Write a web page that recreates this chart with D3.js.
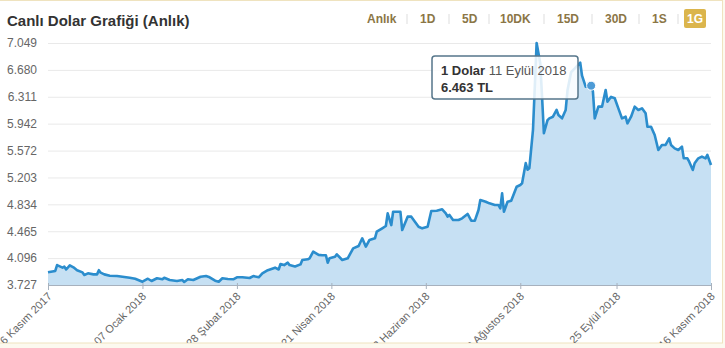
<!DOCTYPE html>
<html>
<head>
<meta charset="utf-8">
<script src="https://cdn.jsdelivr.net/npm/d3@7"></script>
<style>
body { margin: 0; background: #fff; }
svg { display: block; font-family: Arial, "Liberation Sans", sans-serif; }
</style>
</head>
<body>
<div id="chart"></div>
<script>
// chart data (days counted from 16 Kasım 2017)
var startDate = new Date(2017, 10, 16);
var endDate = new Date(2018, 10, 16);

var dayOffsets = [0, 4, 5, 8, 9, 10, 12, 14, 16, 19, 20, 22, 25, 27, 28, 29, 31, 34, 38, 41,
  45, 48, 51, 52, 55, 57, 60, 63, 64, 67, 71, 74, 75, 77, 80, 84, 87, 89, 92, 94,
  96, 99, 102, 104, 107, 111, 113, 116, 118, 121, 123, 125, 127, 128, 130, 132, 133, 136, 139, 140,
  143, 144, 146, 149, 151, 153, 154, 155, 158, 159, 162, 165, 168, 171, 173, 175, 177, 180, 181, 184,
  186, 187, 189, 190, 193, 194, 195, 198, 200, 202, 204, 206, 209, 211, 214, 217, 219, 220, 221, 223,
  226, 228, 231, 233, 235, 237, 238, 241, 243, 246, 248, 249, 250, 251, 253, 255, 258, 260, 261, 263,
  264, 265, 267, 269, 271, 272, 273, 275, 276, 278, 280, 281, 283, 285, 286, 288, 290, 293, 294, 296,
  299, 300, 301, 303, 305, 307, 308, 310, 312, 314, 316, 318, 319, 321, 323, 325, 327, 329, 330, 332,
  334, 336, 338, 340, 342, 343, 345, 347, 349, 350, 352, 353, 355, 356, 358, 360, 362, 363, 365];

var rates = [3.901, 3.92, 4.00, 3.965, 3.98, 3.94, 3.997, 3.97, 3.93, 3.90, 3.865, 3.887, 3.873, 3.873, 3.93, 3.896, 3.873, 3.855, 3.85, 3.84,
  3.827, 3.813, 3.782, 3.772, 3.813, 3.782, 3.82, 3.805, 3.827, 3.795, 3.782, 3.795, 3.768, 3.805, 3.795, 3.84, 3.85, 3.833, 3.786, 3.772,
  3.82, 3.81, 3.805, 3.833, 3.833, 3.823, 3.85, 3.833, 3.887, 3.93, 3.947, 3.965, 3.94, 4.015, 4.0, 4.033, 4.0, 3.98, 4.01, 4.07,
  4.08, 4.093, 4.184, 4.14, 4.135, 4.135, 4.033, 4.093, 4.115, 4.148, 4.07, 4.093, 4.23, 4.262, 4.368, 4.253, 4.345, 4.368, 4.459, 4.505,
  4.537, 4.711, 4.55, 4.733, 4.733, 4.733, 4.482, 4.665, 4.665, 4.596, 4.527, 4.505, 4.527, 4.743, 4.747, 4.766, 4.711, 4.665, 4.688, 4.619,
  4.619, 4.642, 4.702, 4.61, 4.61, 4.757, 4.894, 4.87, 4.848, 4.825, 4.825, 4.78, 4.986, 4.733, 4.87, 4.884, 5.076, 5.1, 5.123, 5.40,
  5.31, 5.33, 5.855, 7.049, 6.77, 6.31, 5.81, 5.99, 6.015, 6.037, 6.13, 6.06, 6.015, 6.13, 6.40, 6.65, 6.70, 6.78, 6.60, 6.45,
  6.463, 6.38, 6.015, 6.175, 6.175, 6.404, 6.243, 6.31, 6.29, 6.152, 6.015, 6.037, 5.946, 6.037, 6.175, 6.13, 6.152, 6.084, 5.9, 5.9,
  5.786, 5.58, 5.649, 5.649, 5.74, 5.649, 5.603, 5.58, 5.626, 5.466, 5.466, 5.42, 5.306, 5.398, 5.466, 5.489, 5.466, 5.512, 5.374];

var yTickLabels = ["3.727", "4.096", "4.465", "4.834", "5.203", "5.572", "5.942", "6.311", "6.680", "7.049"];
var xTickDates = ["2017-11-16", "2018-01-07", "2018-02-28", "2018-04-21", "2018-06-12", "2018-08-03", "2018-09-25", "2018-11-16"];
var xTickLabels = ["16 Kasım 2017", "07 Ocak 2018", "28 Şubat 2018", "21 Nisan 2018", "12 Haziran 2018", "03 Ağustos 2018", "25 Eylül 2018", "16 Kasım 2018"];
var buttonLabels = ["Anlık", "1D", "5D", "10DK", "15D", "30D", "1S", "1G"];
var buttonX = [367, 420, 462, 500, 557, 605, 652, 688];

var tooltipDate = "2018-09-11";
var tooltipRate = 6.463;

var svgWidth = 725, svgHeight = 348;
var margin = { top: 43, right: 14, bottom: 63, left: 48 };
var width = svgWidth - margin.left - margin.right;
var height = svgHeight - margin.top - margin.bottom;

var parseDate = d3.timeParse("%Y-%m-%d");

var svg = d3.select("#chart").append("svg")
  .attr("width", svgWidth)
  .attr("height", svgHeight);

// cream frame around the widget
svg.append("rect").attr("x", 0).attr("y", 0).attr("width", svgWidth).attr("height", svgHeight).attr("fill", "#fcf9ef");
svg.append("rect").attr("x", -2).attr("y", 0.5).attr("width", 724.5).attr("height", 342.5)
  .attr("fill", "#fff").attr("stroke", "#efe3bf");

svg.append("defs").append("clipPath").attr("id", "box")
  .append("rect").attr("x", 0).attr("y", 1).attr("width", 722).attr("height", 342);

var box = svg.append("g").attr("clip-path", "url(#box)");

// title
box.append("text")
  .attr("x", 7).attr("y", 26)
  .attr("font-size", "15px")
  .attr("font-weight", "bold")
  .attr("fill", "#333")
  .text("Canlı Dolar Grafiği (Anlık)");

// period buttons
var btnGroup = box.append("g");
buttonLabels.forEach(function(b, i) {
  if (b === "1G") {
    btnGroup.append("rect")
      .attr("x", 684).attr("y", 9).attr("width", 22).attr("height", 19).attr("rx", 2)
      .attr("fill", "#dbb54c");
  }
  btnGroup.append("text")
    .attr("x", b === "1G" ? 695 : buttonX[i])
    .attr("y", 22.5)
    .attr("text-anchor", b === "1G" ? "middle" : "start")
    .attr("font-size", "12px")
    .attr("font-weight", "bold")
    .attr("fill", b === "1G" ? "#fff" : "#8b7646")
    .text(b);
});
var sepX = [407, 449, 489, 544, 592, 639, 678];
sepX.forEach(function(sx) {
  btnGroup.append("line")
    .attr("x1", sx).attr("x2", sx).attr("y1", 14).attr("y2", 24)
    .attr("stroke", "#ddd");
});

var chartGroup = box.append("g")
  .attr("transform", `translate(${margin.left}, ${margin.top})`);

var xTimeScale = d3.scaleTime().domain([startDate, endDate]).range([0, width]);
var yLinearScale = d3.scaleLinear().domain([+yTickLabels[0], +yTickLabels[yTickLabels.length - 1]]).range([height, 0]);

var series = dayOffsets.map(function(d, i) {
  return { date: d3.timeDay.offset(startDate, d), rate: rates[i] };
});

// grid + y labels
var leftAxis = d3.axisLeft(yLinearScale)
  .tickValues(yTickLabels.map(Number))
  .tickFormat(function(d, i) { return yTickLabels[i]; })
  .tickSize(-width)
  .tickPadding(11);

var yAxis = chartGroup.append("g").call(leftAxis);
yAxis.select(".domain").remove();
yAxis.selectAll("line").attr("stroke", "#e9e9e9");
yAxis.selectAll("text")
  .attr("font-size", "12px")
  .attr("font-family", "Arial, 'Liberation Sans', sans-serif")
  .attr("fill", "#666");

// area + line
var area = d3.area()
  .x(d => xTimeScale(d.date))
  .y0(height)
  .y1(d => yLinearScale(d.rate));

var line = d3.line()
  .x(d => xTimeScale(d.date))
  .y(d => yLinearScale(d.rate));

chartGroup.append("path")
  .datum(series)
  .attr("d", area)
  .attr("fill", "#c6e0f3");

chartGroup.append("path")
  .datum(series)
  .attr("d", line)
  .attr("fill", "none")
  .attr("stroke", "#2b8dcd")
  .attr("stroke-width", 2.6)
  .attr("stroke-linejoin", "round");

// x axis
var bottomAxis = d3.axisBottom(xTimeScale)
  .tickValues(xTickDates.map(parseDate))
  .tickFormat(function(d, i) { return xTickLabels[i]; })
  .tickSizeOuter(0)
  .tickSize(5);

var xAxis = chartGroup.append("g")
  .attr("transform", `translate(0, ${height})`)
  .call(bottomAxis);
xAxis.select(".domain").attr("stroke", "#a7b1bd");
xAxis.selectAll("line").attr("stroke", "#a7b1bd").attr("y1", -2).attr("y2", 4);
xAxis.selectAll("text")
  .attr("x", 0).attr("y", 0).attr("dy", 0)
  .attr("transform", "translate(4, 12) rotate(-45)")
  .attr("text-anchor", "end")
  .attr("font-size", "11px")
  .attr("font-family", "Arial, 'Liberation Sans', sans-serif")
  .attr("fill", "#666");

// hover marker + tooltip
var tx = xTimeScale(parseDate(tooltipDate));
var ty = yLinearScale(tooltipRate);

chartGroup.append("circle")
  .attr("cx", tx).attr("cy", ty).attr("r", 4.5)
  .attr("fill", "#4d9bd6")
  .attr("stroke", "#fff")
  .attr("stroke-width", 1);

var tip = box.append("g").attr("transform", "translate(432, 56)");
tip.append("rect")
  .attr("width", 146).attr("height", 43).attr("rx", 3)
  .attr("fill", "#fff").attr("fill-opacity", 0.85)
  .attr("stroke", "#56768a").attr("stroke-width", 1.5);

var t1 = tip.append("text").attr("x", 9).attr("y", 19).attr("font-size", "13px").attr("fill", "#333");
t1.append("tspan").attr("font-weight", "bold").text("1 Dolar ");
t1.append("tspan").attr("fill", "#555").text(d3.timeFormat("%d")(parseDate(tooltipDate)) + " Eylül 2018");
tip.append("text").attr("x", 9).attr("y", 36).attr("font-size", "13px")
  .attr("font-weight", "bold").attr("fill", "#333")
  .text(d3.format(".3f")(tooltipRate) + " TL");
</script>
</body>
</html>
